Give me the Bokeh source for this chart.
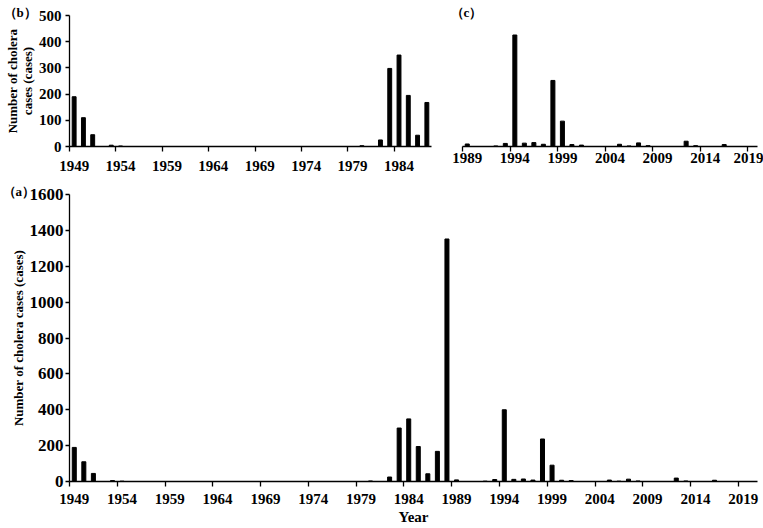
from bokeh.plotting import figure
from bokeh.layouts import column, row
from bokeh.models import FixedTicker, Range1d, Title, ColumnDataSource
from bokeh.embed import file_html
from bokeh.resources import INLINE

years = list(range(1949, 2021))
cases = [190, 110, 45, 0, 5, 2, 0, 0, 0, 0,          # 1949-1958
         0, 0, 0, 0, 0, 0, 0, 0, 0, 0,               # 1959-1968
         0, 0, 0, 0, 0, 0, 0, 0, 0, 0,               # 1969-1978
         0, 3, 0, 25, 298, 349, 195, 43, 168, 1352,  # 1979-1988
         9, 0, 0, 2, 11, 400, 12, 14, 8, 237,        # 1989-1998
         91, 7, 5, 0, 0, 0, 8, 2, 13, 3,             # 1999-2008
         0, 0, 0, 19, 3, 0, 0, 7, 0, 0,              # 2009-2018
         0, 0]                                       # 2019-2020

label_years = list(range(1949, 2020, 5))
y_ticks_a = [0, 200, 400, 600, 800, 1000, 1200, 1400, 1600]
y_ticks_b = [0, 100, 200, 300, 400, 500]

FONT = "Liberation Serif"
BAR_W = 0.42


def style(p, label_standoff=6):
    p.toolbar_location = None
    p.grid.visible = False
    p.outline_line_color = None
    p.background_fill_color = "white"
    p.border_fill_color = "white"
    for ax in p.axis:
        ax.axis_line_color = "black"
        ax.axis_line_width = 1.3
        ax.major_label_text_font = FONT
        ax.major_label_text_font_style = "bold"
        ax.major_label_text_color = "black"
        ax.axis_label_text_font = FONT
        ax.axis_label_text_font_style = "bold"
        ax.axis_label_text_color = "black"
    xa = p.xaxis[0]
    xa.major_label_text_font_size = "15px"
    xa.major_tick_line_color = None
    xa.major_tick_out = 5
    xa.major_tick_in = 0
    xa.minor_tick_line_color = "black"
    xa.minor_tick_line_width = 1.3
    xa.minor_tick_out = 5
    xa.minor_tick_in = 0
    xa.major_label_standoff = label_standoff


def xticker(x0, x1):
    majors = [y for y in label_years if x0 <= y <= x1]
    minors = [y - 0.5 for y in label_years if x0 <= y - 0.5 <= x1]
    return FixedTicker(ticks=majors, minor_ticks=minors)


def yaxis_style(p, ticks, standoff, size):
    ya = p.yaxis[0]
    ya.ticker = FixedTicker(ticks=ticks, minor_ticks=[])
    ya.major_label_text_font_size = size
    ya.major_tick_line_color = "black"
    ya.major_tick_line_width = 1.3
    ya.major_tick_out = 4
    ya.major_tick_in = 0
    ya.major_label_standoff = standoff
    ya.axis_label_standoff = 1


def subset(y0, y1):
    xs = [y for y in years if y0 <= y <= y1]
    vs = [c for y, c in zip(years, cases) if y0 <= y <= y1]
    return ColumnDataSource(dict(x=xs, top=vs))


def panel_tag(p, text, offset, standoff):
    p.add_layout(Title(text=text, align="left", offset=offset, standoff=standoff,
                       text_font=FONT, text_font_style="bold", text_font_size="13px",
                       text_color="black", vertical_align="bottom"), "above")


# ---------- panel (b) ----------
pb = figure(width=440, height=180, output_backend="svg", toolbar_location=None,
            x_range=Range1d(1948.5, 1987.5), y_range=Range1d(0, 500),
            min_border_left=69, min_border_right=9, min_border_top=15, min_border_bottom=32)
pb.vbar(x="x", top="top", width=BAR_W, source=subset(1949, 1987), color="black")
style(pb, label_standoff=9)
pb.xaxis[0].ticker = xticker(1948.5, 1987.5)
yaxis_style(pb, y_ticks_b, 4, "15px")
pb.yaxis[0].axis_label = "Number of cholera\ncases (cases)"
pb.yaxis[0].axis_label_text_font_size = "13px"
pb.yaxis[0].axis_label_text_line_height = 1.0
panel_tag(pb, "（b）", -66, -8)

# ---------- panel (c) ----------
pc = figure(width=323, height=180, output_backend="svg", toolbar_location=None,
            x_range=Range1d(1988.5, 2019.5), y_range=Range1d(0, 470),
            min_border_left=22, min_border_right=6, min_border_top=15, min_border_bottom=34)
pc.vbar(x="x", top="top", width=BAR_W, source=subset(1989, 2019), color="black")
style(pc, label_standoff=1)
pc.xaxis[0].ticker = xticker(1988.5, 2019.5)
pc.yaxis.visible = False
panel_tag(pc, "（c）", -12, -8)

# ---------- panel (a) ----------
pa = figure(width=763, height=348, output_backend="svg", toolbar_location=None,
            x_range=Range1d(1948.5, 2020.5), y_range=Range1d(0, 1600),
            min_border_left=69, min_border_right=6, min_border_top=14, min_border_bottom=47)
pa.vbar(x="x", top="top", width=BAR_W, source=subset(1949, 2020), color="black")
style(pa, label_standoff=7)
pa.xaxis[0].ticker = xticker(1948.5, 2020.5)
pa.xaxis[0].axis_label = "Year"
pa.xaxis[0].axis_label_text_font_size = "15px"
pa.xaxis[0].axis_label_standoff = 2
yaxis_style(pa, y_ticks_a, 2, "17px")
pa.yaxis[0].axis_label = "Number of cholera cases (cases)"
pa.yaxis[0].axis_label_text_font_size = "13px"
panel_tag(pa, "（a）", -67, -8)

layout = column(row(pb, pc), pa)
open("out.html", "w").write(file_html(layout, INLINE))
